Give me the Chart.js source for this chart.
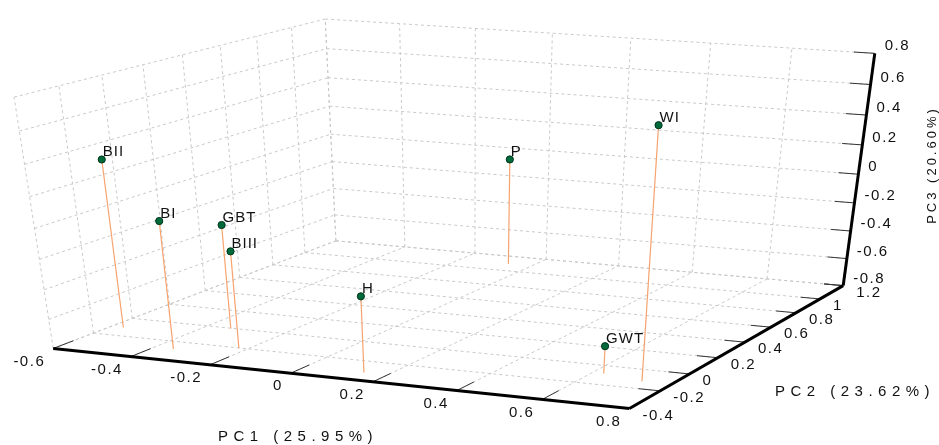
<!DOCTYPE html>
<html>
<head>
<meta charset="utf-8">
<script src="https://cdn.jsdelivr.net/npm/chart.js@4.4.0/dist/chart.umd.min.js"></script>
<style>html,body{margin:0;padding:0;background:#fff;overflow:hidden}</style>
</head>
<body>
<canvas id="Chart" width="939" height="445"></canvas>
<script>
const labels = ['BII', 'BI', 'GBT', 'BIII', 'H', 'P', 'GWT', 'WI'];
const pc1 = [-0.568, -0.351, -0.337, -0.222, 0.143, -0.063, 0.626, 0.731];
const pc2 = [-0.109, -0.281, -0.004, -0.202, -0.319, 1.091, -0.083, -0.124];
const pc3 = [0.324, 0.052, -0.091, -0.148, -0.293, -0.033, -0.615, 0.791];

const pc1Ticks = [-0.6, -0.4, -0.2, 0, 0.2, 0.4, 0.6, 0.8];
const pc2Ticks = [-0.4, -0.2, 0, 0.2, 0.4, 0.6, 0.8, 1, 1.2];
const pc3Ticks = [-0.8, -0.6, -0.4, -0.2, 0, 0.2, 0.4, 0.6, 0.8];

const axisTitles = ['PC1 (25.95%)', 'PC2 (23.62%)', 'PC3 (20.60%)'];

// perspective camera (3x4 projection, last entry fixed to 1) from data space to the flat view plane
const view = [398.594, 219.294, -26.0005, 356.324,
    25.4778, -45.5345, -170.863, 222.569,
    -0.0479861, 0.105247, -0.0552727];

function proj(x, y, z) {
    const w = view[8] * x + view[9] * y + view[10] * z + 1;
    return {
        x: (view[0] * x + view[1] * y + view[2] * z + view[3]) / w,
        y: (view[4] * x + view[5] * y + view[6] * z + view[7]) / w
    };
}

const min1 = pc1Ticks[0], max1 = pc1Ticks[pc1Ticks.length - 1];
const min2 = pc2Ticks[0], max2 = pc2Ticks[pc2Ticks.length - 1];
const min3 = pc3Ticks[0], max3 = pc3Ticks[pc3Ticks.length - 1];

function seg(a, b, color, width, dash, order) {
    return {
        data: [proj(a[0], a[1], a[2]), proj(b[0], b[1], b[2])],
        showLine: true, borderColor: color, borderWidth: width, borderDash: dash,
        pointRadius: 0, clip: false, order: order
    };
}

const datasets = [];
// points
datasets.push({
    data: pc1.map((v, i) => proj(v, pc2[i], pc3[i])),
    pointRadius: 3.6, backgroundColor: '#006a3a', borderColor: '#00341b', borderWidth: 1,
    clip: false, order: 0
});
// axes + ticks
datasets.push(seg([min1, min2, min3], [max1, min2, min3], '#000', 3, [], 1));
datasets.push(seg([max1, min2, min3], [max1, max2, min3], '#000', 3, [], 1));
datasets.push(seg([max1, max2, min3], [max1, max2, max3], '#000', 3, [], 1));
pc1Ticks.forEach(v => datasets.push(seg([v, min2, min3], [v, min2 + 0.1, min3], '#333', 1, [], 1)));
pc2Ticks.forEach(v => datasets.push(seg([max1, v, min3], [max1 - 0.05, v, min3], '#333', 1, [], 1)));
pc3Ticks.forEach(v => datasets.push(seg([max1, max2, v], [max1 - 0.05, max2, v], '#333', 1, [], 1)));
// drop lines to the floor
pc1.forEach((v, i) => datasets.push(seg([v, pc2[i], pc3[i]], [v, pc2[i], min3], '#f7a36e', 1.2, [], 2)));
// floor, left wall, back wall grids
const gc = '#c9c9c9', gd = [3, 3];
pc1Ticks.forEach(v => datasets.push(seg([v, min2, min3], [v, max2, min3], gc, 1, gd, 3)));
pc2Ticks.forEach(v => datasets.push(seg([min1, v, min3], [max1, v, min3], gc, 1, gd, 3)));
pc2Ticks.forEach(v => datasets.push(seg([min1, v, min3], [min1, v, max3], gc, 1, gd, 3)));
pc3Ticks.forEach(v => datasets.push(seg([min1, min2, v], [min1, max2, v], gc, 1, gd, 3)));
pc1Ticks.forEach(v => datasets.push(seg([v, max2, min3], [v, max2, max3], gc, 1, gd, 3)));
pc3Ticks.forEach(v => datasets.push(seg([min1, max2, v], [max1, max2, v], gc, 1, gd, 3)));

const fontFamily = '"Liberation Sans", Arial, sans-serif';
const labelPlugin = {
    id: 'labels3d',
    afterDatasetsDraw(chart) {
        const ctx = chart.ctx, sx = chart.scales.x, sy = chart.scales.y;
        const px = (p) => ({ x: sx.getPixelForValue(p.x), y: sy.getPixelForValue(p.y) });
        const spacing = (s) => { if ('letterSpacing' in ctx) ctx.letterSpacing = s; };
        ctx.save();
        ctx.fillStyle = '#111';
        ctx.font = '15px ' + fontFamily;
        spacing('1px');
        ctx.textBaseline = 'alphabetic'; ctx.textAlign = 'left';
        chart.getDatasetMeta(0).data.forEach((el, i) => ctx.fillText(labels[i], el.x + 1, el.y - 3));

        spacing('1.5px');
        ctx.textBaseline = 'middle';
        ctx.textAlign = 'right';
        pc1Ticks.forEach(v => { const p = px(proj(v, min2, min3)); ctx.fillText(String(v), p.x - 8, p.y + 13); });
        ctx.textAlign = 'left';
        pc2Ticks.forEach(v => { const p = px(proj(max1, v, min3)); ctx.fillText(String(v), p.x + 13, p.y + 7); });
        pc3Ticks.forEach(v => { const p = px(proj(max1, max2, v)); ctx.fillText(String(v), p.x + 10, p.y - 7); });

        ctx.textAlign = 'center';
        spacing('5.5px');
        ctx.fillText(axisTitles[0], 298, 437);
        ctx.fillText(axisTitles[1], 855, 392);
        ctx.translate(932, 165); ctx.rotate(-Math.PI / 2);
        ctx.font = '13px ' + fontFamily;
        spacing('3px');
        ctx.fillText(axisTitles[2], 0, 0);
        ctx.restore();
    }
};

new Chart(document.getElementById('Chart').getContext('2d'), {
    type: 'scatter',
    data: { datasets: datasets },
    options: {
        responsive: false, animation: false,
        layout: { padding: 0 },
        scales: {
            x: { type: 'linear', min: 0, max: 939, display: false },
            y: { type: 'linear', min: 0, max: 445, reverse: true, display: false }
        },
        plugins: { legend: { display: false }, tooltip: { enabled: false } }
    },
    plugins: [labelPlugin]
});
</script>
</body>
</html>
